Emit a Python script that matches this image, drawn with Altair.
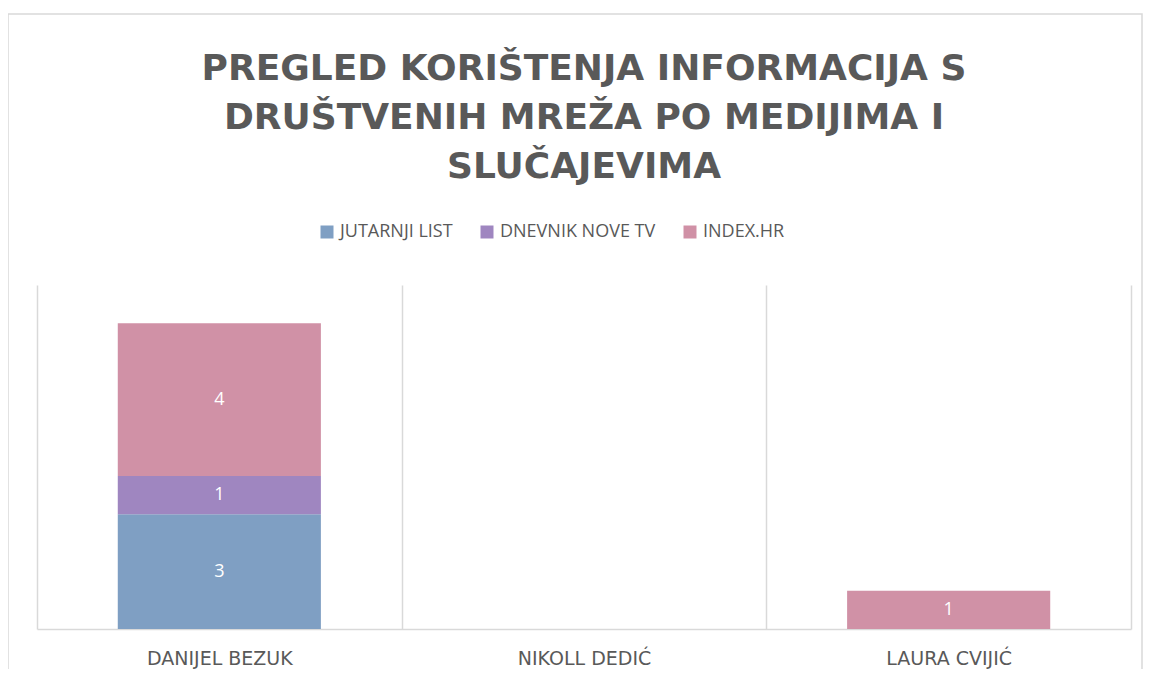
import altair as alt
import pandas as pd

cases = ["DANIJEL BEZUK", "NIKOLL DEDIĆ", "LAURA CVIJIĆ"]
media = ["JUTARNJI LIST", "DNEVNIK NOVE TV", "INDEX.HR"]
jutarnji_list = [3, 0, 0]
dnevnik_nove_tv = [1, 0, 0]
index_hr = [4, 0, 1]
colors = ["#7F9FC3", "#9F86C0", "#D091A6"]
title_lines = ["PREGLED KORIŠTENJA INFORMACIJA S", "DRUŠTVENIH MREŽA PO MEDIJIMA I", "SLUČAJEVIMA"]

rows = []
for i, (m, vals) in enumerate(zip(media, [jutarnji_list, dnevnik_nove_tv, index_hr])):
    for c, v in zip(cases, vals):
        rows.append({"case": c, "medium": m, "value": v, "idx": i})
df = pd.DataFrame(rows)

x_enc = alt.X("case:N", sort=cases, title=None,
              scale=alt.Scale(paddingInner=0, paddingOuter=0))

bars = alt.Chart(df).mark_bar(width=alt.RelativeBandSize(0.557)).encode(
    x=x_enc,
    y=alt.Y("value:Q", stack="zero", scale=alt.Scale(domain=[0, 9]), axis=None),
    color=alt.Color("medium:N", sort=media,
                    scale=alt.Scale(domain=media, range=colors),
                    legend=alt.Legend(orient="none", direction="horizontal", title=None,
                                      legendX=281, legendY=-62, padding=0,
                                      symbolType="square", symbolSize=169, symbolStrokeWidth=0,
                                      symbolOpacity=1,
                                      labelFont="Open Sans", labelFontSize=18, labelColor="#595959",
                                      labelOffset=4, columnPadding=25)),
    order=alt.Order("idx:Q"),
)

labels = alt.Chart(df).transform_filter("datum.value > 0").transform_stack(
    stack="value", groupby=["case"], as_=["y0", "y1"], sort=[alt.SortField("idx", order="ascending")]
).transform_calculate(mid="(datum.y0 + datum.y1) / 2").mark_text(
    color="white", fontSize=18, font="Open Sans", baseline="middle"
).encode(
    x=x_enc,
    y=alt.Y("mid:Q", scale=alt.Scale(domain=[0, 9]), axis=None),
    text=alt.Text("value:Q"),
)

frame = alt.Chart(pd.DataFrame({"f": [0]})).mark_rect(
    fillOpacity=0, stroke="#D9D9D9", strokeWidth=1.5
).encode(x=alt.value(-29), x2=alt.value(1105), y=alt.value(-271), y2=alt.value(420))

chart = alt.layer(frame, bars, labels).properties(
    width=1094, height=344,
    autosize=alt.AutoSizeParams(type="none"),
    padding={"left": 29, "top": 277, "right": 12, "bottom": 40},
    title=alt.TitleParams(text=title_lines, anchor="middle", font="DejaVu Sans",
                          fontSize=36, fontWeight="bold", color="#595959",
                          lineHeight=49, offset=-173),
).configure_view(stroke=None).configure_axisX(
    labelAngle=0, labelFont="DejaVu Sans", labelFontSize=19, labelColor="#595959",
    labelPadding=20, ticks=False, domainColor="#D9D9D9", domainWidth=1.5,
    grid=True, tickBand="extent", gridColor="#D9D9D9", gridWidth=1.5,
)

chart.save("out.html", embed_options={"renderer": "svg", "actions": False})
